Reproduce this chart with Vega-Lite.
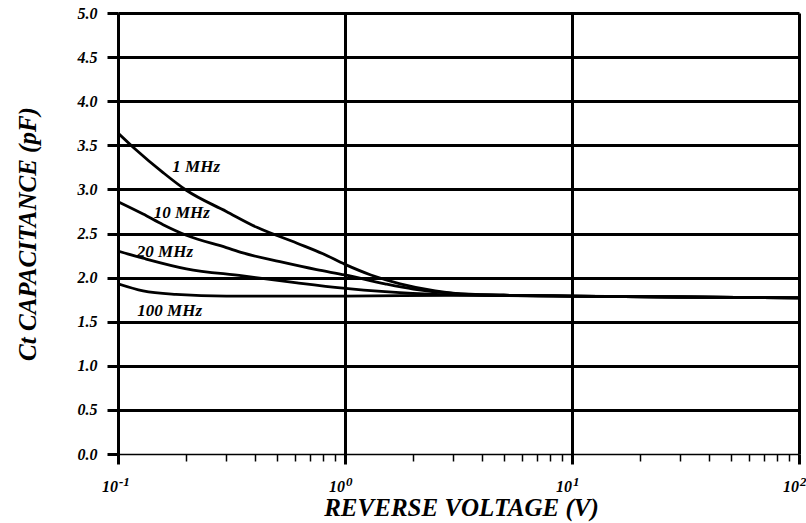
{
  "$schema": "https://vega.github.io/schema/vega-lite/v6.json",
  "width": 681,
  "height": 441,
  "autosize": {"type": "none"},
  "padding": {"left": 118, "top": 13, "right": 7, "bottom": 69},
  "background": "white",
  "config": {
    "view": {"stroke": null},
    "font": "Liberation Serif"
  },
  "datasets": {
    "curves": [
      {"f": "1 MHz", "v": 0.1, "c": 3.64},
      {"f": "1 MHz", "v": 0.12, "c": 3.45},
      {"f": "1 MHz", "v": 0.158, "c": 3.19},
      {"f": "1 MHz", "v": 0.2, "c": 2.99},
      {"f": "1 MHz", "v": 0.3, "c": 2.75},
      {"f": "1 MHz", "v": 0.409, "c": 2.57},
      {"f": "1 MHz", "v": 0.615, "c": 2.39},
      {"f": "1 MHz", "v": 0.8, "c": 2.27},
      {"f": "1 MHz", "v": 1.0, "c": 2.15},
      {"f": "1 MHz", "v": 1.3, "c": 2.03},
      {"f": "1 MHz", "v": 1.75, "c": 1.93},
      {"f": "1 MHz", "v": 2.5, "c": 1.85},
      {"f": "1 MHz", "v": 3.5, "c": 1.81},
      {"f": "1 MHz", "v": 5, "c": 1.8},
      {"f": "1 MHz", "v": 10, "c": 1.79},
      {"f": "1 MHz", "v": 30, "c": 1.78},
      {"f": "1 MHz", "v": 100, "c": 1.77},
      {"f": "10 MHz", "v": 0.1, "c": 2.86},
      {"f": "10 MHz", "v": 0.129, "c": 2.72},
      {"f": "10 MHz", "v": 0.158, "c": 2.6},
      {"f": "10 MHz", "v": 0.2, "c": 2.48},
      {"f": "10 MHz", "v": 0.3, "c": 2.34},
      {"f": "10 MHz", "v": 0.355, "c": 2.28},
      {"f": "10 MHz", "v": 0.517, "c": 2.18},
      {"f": "10 MHz", "v": 0.75, "c": 2.09},
      {"f": "10 MHz", "v": 1.0, "c": 2.03},
      {"f": "10 MHz", "v": 1.5, "c": 1.93},
      {"f": "10 MHz", "v": 2.0, "c": 1.87},
      {"f": "10 MHz", "v": 3, "c": 1.82},
      {"f": "10 MHz", "v": 5, "c": 1.8},
      {"f": "10 MHz", "v": 10, "c": 1.79},
      {"f": "10 MHz", "v": 30, "c": 1.78},
      {"f": "10 MHz", "v": 100, "c": 1.77},
      {"f": "20 MHz", "v": 0.1, "c": 2.3},
      {"f": "20 MHz", "v": 0.129, "c": 2.22},
      {"f": "20 MHz", "v": 0.2, "c": 2.1},
      {"f": "20 MHz", "v": 0.355, "c": 2.02},
      {"f": "20 MHz", "v": 0.615, "c": 1.94},
      {"f": "20 MHz", "v": 0.98, "c": 1.88},
      {"f": "20 MHz", "v": 1.5, "c": 1.84},
      {"f": "20 MHz", "v": 2.5, "c": 1.81},
      {"f": "20 MHz", "v": 5, "c": 1.8},
      {"f": "20 MHz", "v": 10, "c": 1.79},
      {"f": "20 MHz", "v": 30, "c": 1.78},
      {"f": "20 MHz", "v": 100, "c": 1.77},
      {"f": "100 MHz", "v": 0.1, "c": 1.93},
      {"f": "100 MHz", "v": 0.129, "c": 1.85},
      {"f": "100 MHz", "v": 0.18, "c": 1.81},
      {"f": "100 MHz", "v": 0.3, "c": 1.79},
      {"f": "100 MHz", "v": 1, "c": 1.79},
      {"f": "100 MHz", "v": 3, "c": 1.8},
      {"f": "100 MHz", "v": 10, "c": 1.79},
      {"f": "100 MHz", "v": 30, "c": 1.78},
      {"f": "100 MHz", "v": 100, "c": 1.77}
    ],
    "labels": [
      {"t": "1 MHz", "v": 0.221, "c": 3.25},
      {"t": "10 MHz", "v": 0.191, "c": 2.73},
      {"t": "20 MHz", "v": 0.161, "c": 2.29},
      {"t": "100 MHz", "v": 0.169, "c": 1.62}
    ],
    "decades": [
      {"v": 0.1, "e": "-1"},
      {"v": 1, "e": "0"},
      {"v": 10, "e": "1"},
      {"v": 100, "e": "2"}
    ]
  },
  "layer": [
    {
      "data": {"name": "curves"},
      "mark": {"type": "line", "color": "black", "strokeWidth": 2.8, "interpolate": "monotone", "clip": true},
      "encoding": {
        "x": {
          "field": "v", "type": "quantitative",
          "scale": {"type": "log", "domain": [0.1, 100], "nice": false},
          "axis": {
            "title": "REVERSE VOLTAGE (V)",
            "titleFont": "Liberation Serif", "titleFontSize": 25, "titleFontStyle": "italic", "titleFontWeight": "bold",
            "titleColor": "black", "titleBaseline": "alphabetic", "titleX": 343, "titleY": 61,
            "values": [0.1, 0.2, 0.3, 0.4, 0.5, 0.6, 0.7, 0.8, 0.9, 1, 2, 3, 4, 5, 6, 7, 8, 9, 10, 20, 30, 40, 50, 60, 70, 80, 90, 100],
            "labels": false,
            "domainColor": "black", "domainWidth": 1.6,
            "tickColor": "black",
            "tickSize": {"condition": {"test": "abs(log(datum.value)/LN10 - round(log(datum.value)/LN10)) < 0.001", "value": 10}, "value": 7},
            "tickWidth": {"condition": {"test": "abs(log(datum.value)/LN10 - round(log(datum.value)/LN10)) < 0.001", "value": 3}, "value": 1.5},
            "grid": true, "gridColor": "black", "gridWidth": 3,
            "gridOpacity": {"condition": {"test": "abs(log(datum.value)/LN10 - round(log(datum.value)/LN10)) < 0.001", "value": 1}, "value": 0}
          }
        },
        "y": {
          "field": "c", "type": "quantitative",
          "scale": {"domain": [0, 5], "nice": false},
          "axis": {
            "title": "Ct CAPACITANCE (pF)",
            "titleFont": "Liberation Serif", "titleFontSize": 25, "titleFontStyle": "italic", "titleFontWeight": "bold",
            "titleColor": "black", "titleBaseline": "alphabetic", "titleX": -83, "titleY": 220.5, "titleAngle": -90,
            "values": [0, 0.25, 0.5, 0.75, 1, 1.25, 1.5, 1.75, 2, 2.25, 2.5, 2.75, 3, 3.25, 3.5, 3.75, 4, 4.25, 4.5, 4.75, 5],
            "labelExpr": "(round(datum.value*100) % 50 == 0) ? format(datum.value, '.1f') : ''",
            "labelFont": "Liberation Serif", "labelFontSize": 16, "labelFontStyle": "italic", "labelFontWeight": "bold",
            "labelColor": "black", "labelPadding": 10, "labelFlush": false, "labelOverlap": false,
            "domainColor": "black", "domainWidth": 3,
            "tickColor": "black",
            "tickSize": {"condition": {"test": "round(datum.value*100) % 50 == 0", "value": 11}, "value": 5},
            "tickWidth": {"condition": {"test": "round(datum.value*100) % 50 == 0", "value": 3}, "value": 1.5},
            "grid": true, "gridColor": "black",
            "gridWidth": 3,
            "gridOpacity": {"condition": {"test": "round(datum.value*100) % 50 == 0 && datum.value > 0", "value": 1}, "value": 0}
          }
        },
        "detail": {"field": "f"}
      }
    },
    {
      "data": {"name": "labels"},
      "mark": {"type": "text", "font": "Liberation Serif", "fontSize": 17, "fontStyle": "italic", "fontWeight": "bold", "color": "black", "align": "center", "baseline": "middle"},
      "encoding": {
        "x": {"field": "v", "type": "quantitative"},
        "y": {"field": "c", "type": "quantitative"},
        "text": {"field": "t"}
      }
    },
    {
      "data": {"name": "decades"},
      "mark": {"type": "text", "font": "Liberation Serif", "fontSize": 16, "fontStyle": "italic", "fontWeight": "bold", "color": "black", "align": "right", "baseline": "alphabetic", "dy": 38, "dx": 0},
      "encoding": {
        "x": {"field": "v", "type": "quantitative"},
        "y": {"datum": 0, "type": "quantitative"},
        "text": {"value": "10"}
      }
    },
    {
      "data": {"name": "decades"},
      "mark": {"type": "text", "font": "Liberation Serif", "fontSize": 13, "fontStyle": "italic", "fontWeight": "bold", "color": "black", "align": "left", "baseline": "alphabetic", "dy": 32, "dx": 1},
      "encoding": {
        "x": {"field": "v", "type": "quantitative"},
        "y": {"datum": 0, "type": "quantitative"},
        "text": {"field": "e"}
      }
    }
  ]
}
